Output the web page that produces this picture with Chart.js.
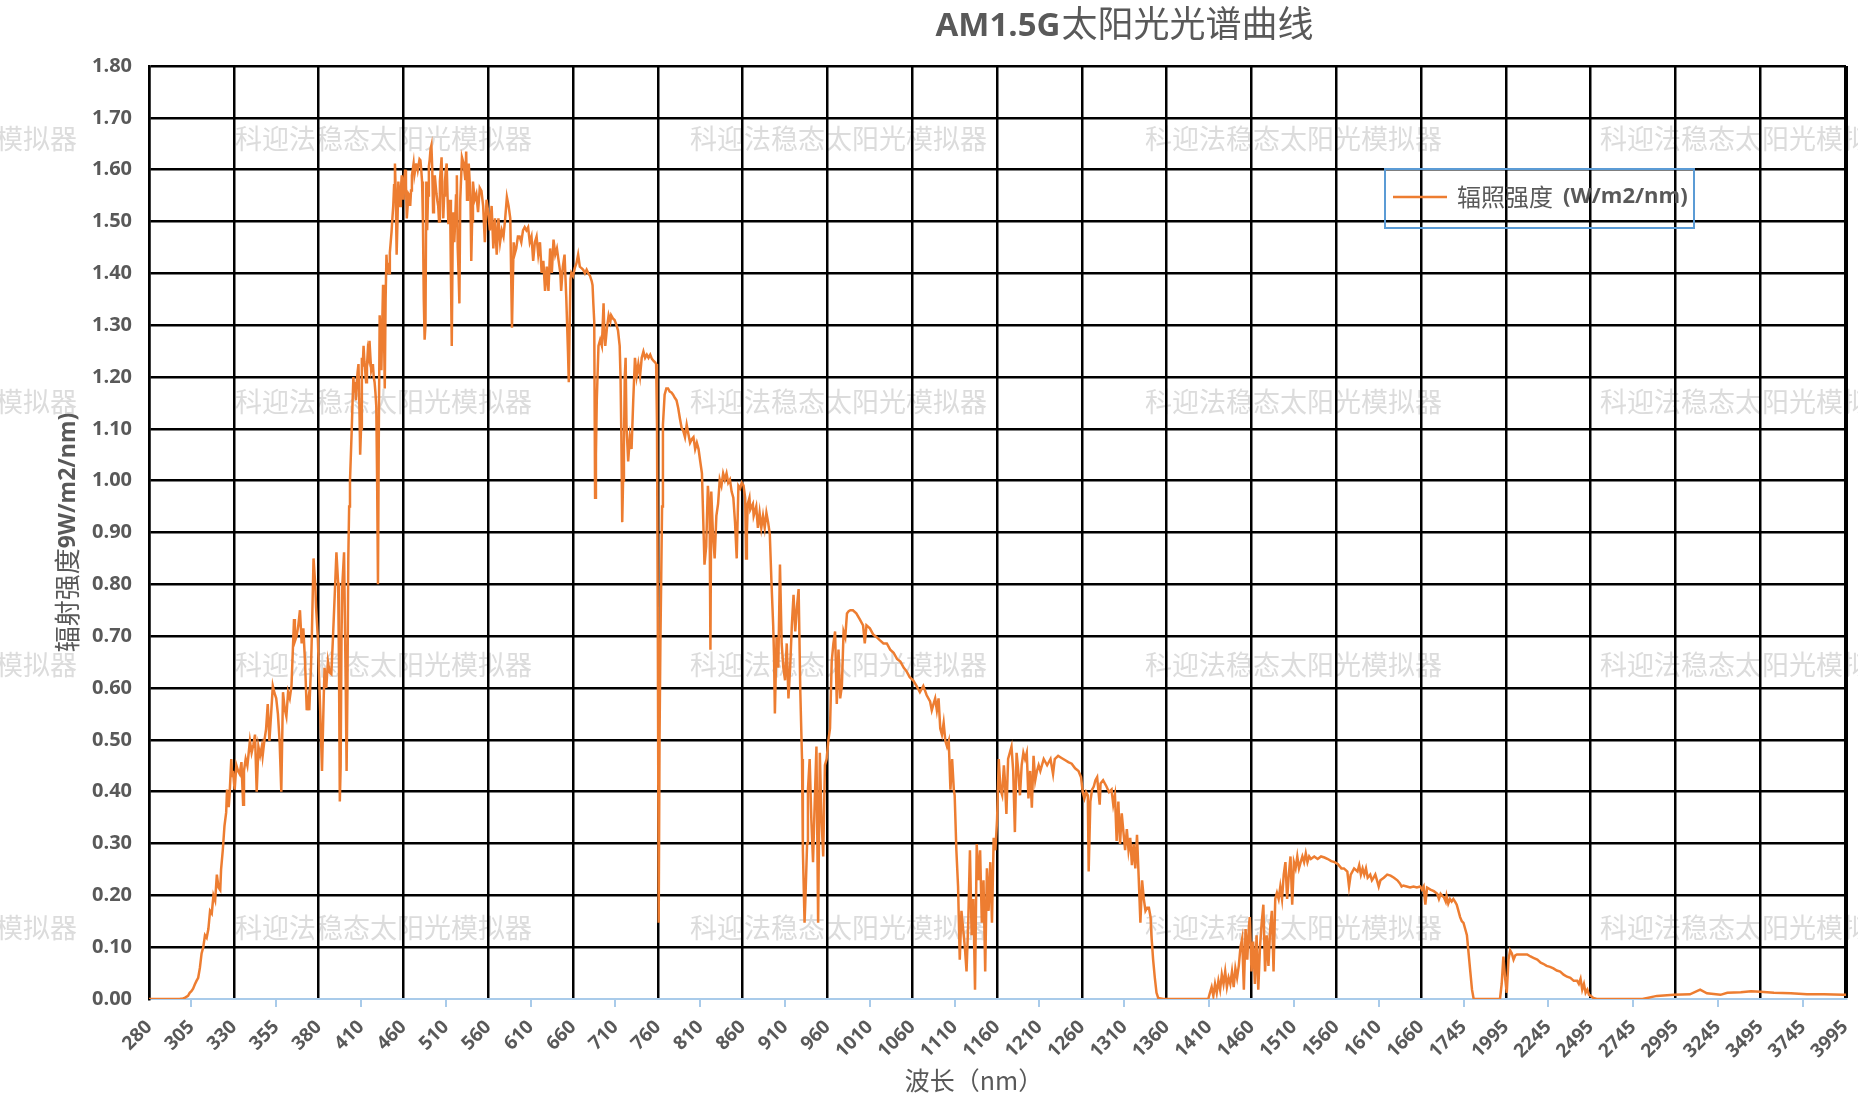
<!DOCTYPE html>
<html><head><meta charset="utf-8">
<script src="https://cdn.jsdelivr.net/npm/chart.js@4.4.1/dist/chart.umd.min.js"></script>
<style>html,body{margin:0;padding:0;background:#fff;}#wrap{position:relative;width:1858px;height:1104px;}</style>
</head><body><div id="wrap"><canvas id="c" width="1858" height="1104"></canvas></div>
<script>
// ---- DATA ----
const chartTitleLatin = 'AM1.5G';
const chartTitleCJK = '太阳光光谱曲线';
const yTitleCJK = '辐射强度';
const yTitleLatin = '9W/m2/nm)';
const xTitle = '波长（nm）';
const seriesNameCJK = '辐照强度';
const seriesUnit = '(W/m2/nm)';
const watermarkText = '科迎法稳态太阳光模拟器';

// wavelength grid of the category axis: [start, end, step] (nm)
const gridSegments = [[280, 400, 0.5], [401, 1700, 1], [1702, 1702, 1], [1705, 4000, 5]];

const tickLabels = ['280','305','330','355','380','410','460','510','560','610','660','710','760','810','860','910','960','1010','1060','1110','1160','1210','1260','1310','1360','1410','1460','1510','1560','1610','1660','1745','1995','2245','2495','2745','2995','3245','3495','3745','3995'];

const yTicksMin = 0, yTicksMax = 1.8, yTicksStep = 0.1;

const wavelengthNm = [
280,290,295,298,300,301,302,303,304,305,306,307,308,309,310,311,312,313,314,315,316,317,318,319,320,321,322,322.5,323.5,324.5,325.5,326,327,327.5,328.5,329,329.5,330.5,331.5,332.5,333.5,334.5,335.5,336,337,338,339.5,340.5,341.5,342.5,343.5,344.5,345.5,346.5,347,348,349,350,351,352,353,354,355,356,357,358,359,360,361,362,363,364,365.5,366,367,368,369,370,371,372,373,374,374.5,375.5,376,377,378,378.5,379.5,380.5,381,382,383,383.5,384.5,385.5,386.5,387.5,388.5,389.5,390.5,391.5,392,392.5,393,393.5,394,395,396,396.5,397,397.5,398,398.5,399.5,400,
401,402,403,404,405,406,407,408,409,410,411,412,413,414,415,416,417,418,419,420,421,422,423,424,425,426,427,428,429,430,431,432,433,434,435,436,437,438,439,440,441,442,443,444,445,446,447,448,449,450,451,452,453,454,455,456,457,458,459,460,461,462,463,464,465,466,467,468,469,470,471,472,473,474,475,476,477,478,479,480,481,482,483,484,485,486,487,488,489,490,491,492,493,494,495,496,497,498,499,500,501,502,503,504,505,506,507,508,509,510,511,512,513,514,515,516,517,518,519,520,521,522,523,524,525,526,
527,529,531,533,534,535,536,537,539,540,541,542,544,546,548,550,552,554,556,558,560,562,564,566,568,570,572,574,576,578,580,582,584,586,587,588,589,590,591,593,595,597,599,601,603,605,607,609,611,613,615,617,619,621,623,625,627,629,631,633,635,637,639,641,643,645,646,648,650,652,654,655,656,657,658,660,662,664,666,668,670,672,674,676,678,680,682,683,684,685,686,687,688,690,692,694,696,697,698,700,702,704,705,707,709,711,713,715,716,717,718,719,720,721,722,723,725,727,729,731,733,735,737,739,741,743,745,747,749,751,753,755,757,758,759,760,761,762,763,764,765,766,768,770,772,774,776,778,780,782,784,786,788,790,792,794,796,798,800,802,804,806,808,810,812,814,815,817,819,821,822,823,825,827,829,831,833,835,837,839,841,843,845,847,849,851,853,855,857,859,861,863,864,865,866,868,869,872,873,876,878,880,882,884,886,888,890,892,894,896,897,898,900,902,904,906,908,910,912,914,916,918,920,922,924,926,928,930,931,933,934,936,937,939,941,943,945,947,949,951,953,955,957,959,961,963,965,967,969,971,973,975,977,979,981,983,985,987,990,994,998,1002,1004,1006,1010,1014,1018,1022,1026,1030,1034,1038,1042,1046,1050,1053,1057,1061,1065,1069,1073,1077,1081,1083,1085,1087,1089,1091,1093,1095,1097,1099,1101,1103,1105,1107,1109,1110,1112,1114,1116,1118,1120,1122,1124,1126,1128,1130,1132,1134,1136,1138,1140,1142,1144,1146,1148,1150,1152,1154,1156,1158,1160,1162,1164,1166,1168,1169,1171,1173,1175,1177,1179,1181,1183,1185,1187,1189,1191,1193,1195,1197,1199,1201,1203,1205,1207,1209,1211,1215,1219,1223,1226,1228,1232,1236,1240,1244,1248,1252,1256,1259,1261,1263,1265,1267,1268,1270,1272,1274,1276,1278,1281,1282,1285,1289,1292,1295,1297,1299,1301,1303,1305,1307,1309,1311,1313,1315,1317,1319,1321,1323,1325,1327,1329,1331,1333,1335,1337,1339,1341,1342,1344,1346,1348,1350,1356,1409,1411,1413,1415,1417,1419,1421,1423,1425,1427,1429,1431,1433,1435,1437,1439,1441,1443,1445,1447,1449,1451,1453,1455,1457,1458,1460,1462,1464,1466,1468,1470,1472,1474,1476,1478,1480,1482,1484,1486,1488,1490,1492,1494,1496,1498,1500,1502,1504,1506,1508,1510,1512,1514,1516,1518,1520,1522,1524,1526,1528,1530,1534,1538,1542,1546,1550,1554,1558,1562,1566,1569,1573,1575,1577,1581,1585,1587,1589,1591,1593,1595,1597,1600,1602,1604,1606,1608,1610,1612,1616,1620,1624,1628,1632,1635,1637,1639,1643,1647,1651,1655,1659,1661,1663,1665,1667,1671,1675,1679,1681,1683,1685,1687,1689,1690,1692,1694,1696,1698,1700,
1705,1715,1725,1735,1745,1755,1765,1775,1785,1795,1805,1960,1970,1980,1990,2000,2010,2020,2030,2040,2050,2060,2080,2100,2120,2140,2160,2180,2200,2215,2235,2255,2275,2295,2315,2335,2355,2375,2395,2415,2425,2435,2445,2455,2465,2475,2485,2495,2510,2530,2800,2885,2985,3080,3140,3180,3260,3300,3380,3440,3495,3575,3675,3770,3870,3985,4000
];

const irradiance = [
0,0,0,0,0.001,0.002,0.004,0.006,0.012,0.015,0.02,0.028,0.035,0.041,0.06,0.088,0.1,0.123,0.118,0.135,0.17,0.165,0.2,0.19,0.24,0.215,0.21,0.25,0.287,0.334,0.36,0.404,0.37,0.393,0.463,0.43,0.44,0.404,0.451,0.44,0.434,0.457,0.375,0.44,0.463,0.45,0.498,0.475,0.49,0.51,0.40,0.487,0.47,0.487,0.469,0.498,0.52,0.569,0.498,0.55,0.604,0.59,0.58,0.55,0.498,0.40,0.592,0.56,0.545,0.592,0.58,0.604,0.733,0.69,0.70,0.72,0.75,0.686,0.715,0.65,0.557,0.58,0.557,0.64,0.70,0.85,0.80,0.756,0.70,0.60,0.55,0.44,0.58,0.639,0.60,0.651,0.63,0.627,0.70,0.78,0.862,0.803,0.65,0.381,0.45,0.70,0.80,0.862,0.60,0.44,0.60,0.85,0.95,1.0,1.096,1.15,
1.20,1.17,1.19,1.155,1.19,1.21,1.225,1.15,1.05,1.10,1.237,1.22,1.26,1.23,1.21,1.19,1.22,1.25,1.24,1.27,1.24,1.213,1.22,1.225,1.20,1.19,1.17,1.143,1.00,0.80,1.10,1.319,1.28,1.213,1.30,1.378,1.30,1.178,1.35,1.436,1.40,1.42,1.40,1.44,1.46,1.48,1.506,1.53,1.57,1.612,1.55,1.436,1.50,1.577,1.55,1.53,1.56,1.589,1.57,1.542,1.58,1.60,1.57,1.506,1.53,1.553,1.55,1.53,1.56,1.589,1.60,1.612,1.59,1.60,1.61,1.612,1.60,1.61,1.62,1.618,1.60,1.577,1.50,1.35,1.272,1.30,1.577,1.483,1.55,1.606,1.62,1.64,1.647,1.60,1.518,1.56,1.589,1.57,1.553,1.54,1.53,1.50,1.577,1.60,1.624,1.55,1.506,1.55,1.577,1.60,1.612,1.55,1.495,1.52,1.542,1.40,1.26,1.45,1.518,1.46,1.50,1.55,1.589,1.45,1.401,1.342,
1.542,1.624,1.612,1.58,1.635,1.542,1.58,1.612,1.55,1.424,1.50,1.577,1.542,1.553,1.518,1.565,1.559,1.53,1.46,1.542,1.518,1.483,1.53,1.448,1.506,1.436,1.506,1.46,1.483,1.471,1.506,1.547,1.53,1.506,1.40,1.295,1.38,1.46,1.436,1.448,1.471,1.471,1.46,1.483,1.489,1.483,1.489,1.46,1.471,1.424,1.46,1.471,1.436,1.46,1.401,1.424,1.366,1.413,1.366,1.448,1.401,1.465,1.436,1.448,1.424,1.401,1.366,1.413,1.436,1.354,1.25,1.19,1.30,1.389,1.401,1.395,1.41,1.419,1.436,1.413,1.41,1.407,1.40,1.407,1.40,1.395,1.385,1.377,1.34,1.307,0.967,1.05,1.155,1.26,1.272,1.26,1.342,1.28,1.26,1.295,1.319,1.307,1.319,1.313,1.31,1.301,1.29,1.26,1.20,1.084,0.92,1.00,1.061,1.20,1.237,1.108,1.037,1.084,1.061,1.155,1.237,1.202,1.225,1.202,1.237,1.249,1.237,1.243,1.237,1.243,1.235,1.231,1.228,1.225,1.108,0.698,0.147,0.5,0.686,0.815,0.95,1.108,1.166,1.178,1.178,1.172,1.17,1.166,1.16,1.155,1.14,1.12,1.102,1.096,1.084,1.108,1.09,1.073,1.08,1.084,1.061,1.073,1.061,1.037,1.014,0.897,0.838,0.873,0.99,0.944,0.674,0.979,0.897,0.85,0.932,0.955,1.002,0.99,1.014,1.002,1.014,0.996,1.002,0.979,0.967,0.92,0.85,0.99,0.985,0.996,0.991,0.967,0.85,0.90,0.955,0.967,0.944,0.955,0.932,0.95,0.909,0.938,0.909,0.932,0.909,0.938,0.92,0.897,0.803,0.721,0.662,0.551,0.698,0.639,0.838,0.686,0.639,0.615,0.686,0.58,0.639,0.721,0.78,0.709,0.756,0.791,0.592,0.463,0.287,0.147,0.193,0.30,0.404,0.463,0.346,0.264,0.381,0.487,0.147,0.475,0.346,0.275,0.451,0.463,0.498,0.522,0.651,0.686,0.709,0.569,0.674,0.58,0.604,0.709,0.698,0.744,0.748,0.75,0.75,0.744,0.733,0.721,0.686,0.721,0.715,0.703,0.698,0.692,0.686,0.686,0.674,0.668,0.656,0.651,0.639,0.633,0.621,0.615,0.604,0.592,0.604,0.586,0.574,0.557,0.569,0.58,0.557,0.58,0.522,0.51,0.533,0.498,0.487,0.498,0.404,0.463,0.404,0.393,0.287,0.217,0.076,0.17,0.135,0.10,0.053,0.147,0.287,0.123,0.193,0.018,0.299,0.229,0.287,0.147,0.229,0.053,0.252,0.17,0.264,0.147,0.311,0.287,0.346,0.463,0.404,0.393,0.451,0.428,0.357,0.463,0.475,0.487,0.44,0.322,0.475,0.44,0.393,0.451,0.475,0.463,0.475,0.387,0.44,0.369,0.469,0.422,0.44,0.451,0.44,0.463,0.451,0.463,0.434,0.463,0.469,0.465,0.461,0.457,0.454,0.445,0.44,0.428,0.399,0.387,0.399,0.393,0.246,0.381,0.404,0.41,0.422,0.428,0.375,0.416,0.422,0.41,0.399,0.404,0.375,0.393,0.305,0.381,0.299,0.358,0.322,0.287,0.328,0.287,0.311,0.258,0.299,0.252,0.317,0.234,0.147,0.229,0.193,0.17,0.176,0.176,0.158,0.123,0.076,0.041,0.012,0.002,0,0,0.012,0.023,0.006,0.029,0.012,0.035,0.018,0.047,0.029,0.053,0.023,0.041,0.029,0.053,0.023,0.059,0.041,0.064,0.10,0.117,0.018,0.135,0.076,0.141,0.158,0.053,0.111,0.029,0.123,0.018,0.10,0.147,0.182,0.053,0.123,0.064,0.135,0.17,0.053,0.193,0.205,0.193,0.217,0.193,0.24,0.264,0.193,0.24,0.275,0.182,0.264,0.252,0.275,0.252,0.264,0.275,0.264,0.281,0.264,0.275,0.27,0.275,0.27,0.275,0.273,0.27,0.266,0.264,0.26,0.252,0.252,0.246,0.217,0.24,0.252,0.246,0.258,0.24,0.252,0.24,0.252,0.234,0.24,0.229,0.234,0.24,0.229,0.217,0.229,0.234,0.24,0.238,0.234,0.229,0.223,0.217,0.219,0.217,0.215,0.217,0.215,0.217,0.211,0.217,0.182,0.215,0.211,0.208,0.203,0.193,0.203,0.199,0.196,0.188,0.199,0.184,0.193,0.188,0.193,0.188,
0.182,0.17,0.158,0.15,0.147,0.135,0.123,0.088,0.053,0.018,0,0,0.029,0.082,0.041,0.012,0.076,0.094,0.088,0.076,0.084,0.086,0.086,0.086,0.086,0.082,0.079,0.076,0.07,0.068,0.064,0.062,0.059,0.055,0.053,0.047,0.043,0.041,0.035,0.035,0.029,0.039,0.018,0.029,0.012,0.018,0.008,0.006,0.002,0,0,0.006,0.008,0.009,0.018,0.011,0.008,0.012,0.013,0.015,0.014,0.012,0.011,0.009,0.009,0.008,0.008
];

// ---- BUILD ----
const categories = [];
gridSegments.forEach(([a, b, s]) => {
  const n = Math.round((b - a) / s);
  for (let k = 0; k <= n; k++) categories.push(String(a + k * s));
});
const catSet = new Set(categories);
const points = [];
wavelengthNm.forEach((w, i) => { if (catSet.has(String(w))) points.push({ x: String(w), y: irradiance[i] }); });
const tickSet = new Set(tickLabels);
const lastIdx = categories.length - 1;

const TXT = '#595959';
const ORANGE = '#ED7D31';
const AXISBLUE = '#A9CBEA';

function tickInfo(ctx) {
  const v = ctx.tick ? ctx.tick.value : undefined;
  if (v === undefined) return { grid: false, mark: false, last: false };
  const li = tickLabels.indexOf(categories[v]);
  return { grid: li >= 0 && li % 2 === 0, mark: li >= 0 && li % 2 === 1, last: v === lastIdx };
}

const decor = {
  id: 'decor',
  beforeDraw(chart) {
    const c = chart.ctx;
    c.save();
    c.fillStyle = '#dcdcdc';
    c.font = '27px "Noto Sans CJK SC"';
    c.textBaseline = 'middle';
    c.textAlign = 'left';
    const rows = [139, 402, 665, 928];
    const cols = [-220, 235, 690, 1145, 1600];
    rows.forEach(y => cols.forEach(x => c.fillText(watermarkText, x, y)));
    c.restore();
  },
  afterDraw(chart) {
    const c = chart.ctx;
    const a = chart.chartArea;
    c.save();
    c.fillStyle = TXT;
    c.textBaseline = 'alphabetic';
    c.textAlign = 'left';
    // chart title
    c.font = 'bold 33px "Open Sans"';
    const w1 = c.measureText(chartTitleLatin).width;
    c.font = '36px "Noto Sans CJK SC"';
    const w2 = c.measureText(chartTitleCJK).width;
    let tx = 1124 - (w1 + w2) / 2;
    c.font = 'bold 33px "Open Sans"';
    c.fillText(chartTitleLatin, tx, 36);
    c.font = '36px "Noto Sans CJK SC"';
    c.fillText(chartTitleCJK, tx + w1 + 1, 37);
    // y title
    c.save();
    c.translate(67, (a.top + a.bottom) / 2);
    c.rotate(-Math.PI / 2);
    c.textBaseline = 'middle';
    c.font = '26px "Noto Sans CJK SC"';
    const y1 = c.measureText(yTitleCJK).width;
    c.font = 'bold 23px "Open Sans"';
    const y2 = c.measureText(yTitleLatin).width;
    const ys = -(y1 + y2) / 2;
    c.font = '26px "Noto Sans CJK SC"';
    c.fillText(yTitleCJK, ys, 0);
    c.font = 'bold 23px "Open Sans"';
    c.fillText(yTitleLatin, ys + y1, 1);
    c.restore();
    // x title
    c.textAlign = 'center';
    c.textBaseline = 'middle';
    c.font = '25px "Noto Sans CJK SC"';
    c.fillText(xTitle, 974, 1080);
    // legend
    const lx = 1385, ly = 169, lw = 309, lh = 59;
    c.strokeStyle = '#5B9BD5';
    c.lineWidth = 2;
    c.strokeRect(lx, ly, lw, lh);
    const ds = chart.data.datasets[0];
    c.strokeStyle = ds.borderColor;
    c.lineWidth = 2.5;
    c.beginPath(); c.moveTo(lx + 8, ly + 28); c.lineTo(lx + 62, ly + 28); c.stroke();
    c.textAlign = 'left';
    c.font = '24px "Noto Sans CJK SC"';
    c.fillText(seriesNameCJK, lx + 72, ly + 28);
    c.font = 'bold 22px "Open Sans"';
    c.fillText(seriesUnit, lx + 178, ly + 28);
    c.restore();
  }
};

new Chart(document.getElementById('c'), {
  type: 'line',
  data: {
    labels: categories,
    datasets: [{
      label: seriesNameCJK + seriesUnit,
      data: points,
      borderColor: ORANGE,
      borderWidth: 2.5,
      pointRadius: 0,
      tension: 0,
      fill: false
    }]
  },
  options: {
    responsive: false,
    animation: false,
    events: [],
    layout: { padding: { top: 66, right: 12, left: 0, bottom: 0 } },
    plugins: { legend: { display: false }, tooltip: { enabled: false }, title: { display: false } },
    scales: {
      x: {
        type: 'category',
        offset: false,
        afterFit: s => { s.height = 105; s.paddingRight = 0; s.paddingLeft = 0; },
        afterBuildTicks: s => {
          s.ticks = s.ticks.filter(t => tickSet.has(categories[t.value]) || t.value === lastIdx);
        },
        border: { display: true, color: AXISBLUE, width: 2 },
        grid: {
          drawOnChartArea: true,
          drawTicks: true,
          tickLength: 8,
          offset: false,
          color: ctx => { const i = tickInfo(ctx); return (i.grid || i.last) ? '#000' : 'rgba(0,0,0,0)'; },
          lineWidth: ctx => { const i = tickInfo(ctx); return i.last ? 3 : (i.grid ? 2.5 : 0); },
          tickColor: ctx => tickInfo(ctx).mark ? AXISBLUE : 'rgba(0,0,0,0)',
          tickWidth: ctx => tickInfo(ctx).mark ? 2 : 0
        },
        ticks: {
          autoSkip: false,
          minRotation: 45,
          maxRotation: 45,
          padding: 9,
          color: TXT,
          font: { family: '"Open Sans"', size: 19, weight: 'bold' },
          callback: function (value) { const l = this.getLabelForValue(value); return tickSet.has(l) ? l : ''; }
        }
      },
      y: {
        min: yTicksMin,
        max: yTicksMax,
        afterFit: s => { s.width = 149; },
        border: { display: true, color: '#000', width: 2.5 },
        grid: {
          drawTicks: false,
          color: ctx => (ctx.tick && Math.abs(ctx.tick.value) < 1e-9) ? 'rgba(0,0,0,0)' : '#000',
          lineWidth: 2.5
        },
        ticks: {
          stepSize: yTicksStep,
          padding: 17,
          color: TXT,
          font: { family: '"Open Sans"', size: 20, weight: 'bold' },
          callback: v => Number(v).toFixed(2)
        }
      }
    }
  },
  plugins: [decor]
});
</script></body></html>
